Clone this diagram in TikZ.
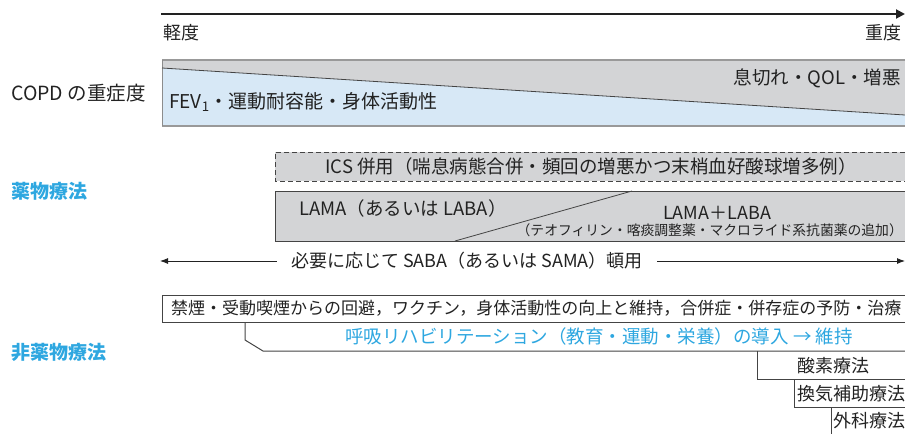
\documentclass[tikz,border=0pt]{standalone}
\usepackage{fontspec}
\setmainfont{Noto Sans CJK JP}
\usetikzlibrary{arrows.meta}
\definecolor{boxgray}{HTML}{D3D4D6}
\definecolor{paleblue}{HTML}{D7E8F6}
\definecolor{skyblue}{HTML}{2EA7E0}
\definecolor{edgecol}{HTML}{444444}
\definecolor{inkcol}{HTML}{222222}
\begin{document}
\begin{tikzpicture}[x=1pt,y=-1pt,
  txt/.style={inner sep=0pt, text=inkcol, font=\fontsize{18}{20}\selectfont},
  smalltxt/.style={inner sep=0pt, text=inkcol, font=\fontsize{13.8}{15}\selectfont},
  bluetxt/.style={inner sep=0pt, text=skyblue, font=\fontsize{19}{21}\selectfont\bfseries},
  axisline/.style={line width=2pt, draw=inkcol, -{Triangle[length=9pt,width=9pt]}},
  edgeline/.style={draw=edgecol, line width=1pt},
  grayedge/.style={draw=gray!80, line width=1.6pt},
  diagline/.style={draw=edgecol, line width=0.8pt},
  thinarrow/.style={draw=inkcol, line width=0.9pt, -{Latex[length=8pt,width=6pt]}}
]
\useasboundingbox (0,0) rectangle (905,434);

% ---- severity axis
\coordinate (axL) at (161,14);
\coordinate (axR) at (905,14);
\draw[axisline] (axL) -- (axR);
\node[txt, anchor=west] (mild) at (163,33) {軽度};
\node[txt, anchor=east] (severe) at (902,33) {重度};

% ---- COPD severity box
\coordinate (cTL) at (162,60);
\coordinate (cTR) at (905,60);
\coordinate (cBL) at (162,126);
\coordinate (cBR) at (905,126);
\coordinate (dL) at (162,68);
\coordinate (dR) at (905,115);
\fill[boxgray] (cTL) -- (cTR) -- (dR) -- (dL) -- cycle;
\fill[paleblue] (dL) -- (dR) -- (cBR) -- (cBL) -- cycle;
\draw[grayedge] (cTL) -- (cTR);
\draw[draw=gray!80, line width=1.3pt] (cBL) -- (cBR);
\draw[draw=gray!90, line width=1pt] (cTL) -- (cBL);
\draw[diagline] (dL) -- (dR);
\node[txt, anchor=west, font=\fontsize{19.5}{21}\selectfont] (copd) at (11,93) {COPD の重症度};
\node[txt, anchor=east, font=\fontsize{18.5}{20}\selectfont] (dysp) at (901,78) {息切れ・QOL・増悪};
\node[txt, anchor=west, font=\fontsize{19}{21}\selectfont] (fev) at (169,102) {FEV\textsubscript{1}・運動耐容能・身体活動性};

% ---- pharmacotherapy
\node[bluetxt, anchor=west] (drug) at (11,191) {薬物療法};

% ICS dashed box
\coordinate (iTR) at (905,152);
\coordinate (iTL) at (275,152);
\coordinate (iBL) at (275,181);
\coordinate (iBR) at (905,181);
\fill[boxgray] (iTL) rectangle (iBR);
\draw[edgeline, line width=0.9pt, dash pattern=on 5pt off 3pt] (iTR) -- (iTL) -- (iBL) -- (iBR);
\node[txt, font=\fontsize{18.5}{20}\selectfont] (ics) at (591,166) {ICS 併用（喘息病態合併・頻回の増悪かつ末梢血好酸球増多例）};

% LAMA box
\coordinate (lTR) at (905,191);
\coordinate (lTL) at (275,191);
\coordinate (lBL) at (275,241);
\coordinate (lBR) at (905,241);
\coordinate (lD1) at (455,241);
\coordinate (lD2) at (632,191);
\fill[boxgray] (lTL) rectangle (lBR);
\draw[edgeline] (lTR) -- (lTL) -- (lBL) -- (lBR);
\draw[diagline] (lD1) -- (lD2);
\node[txt, anchor=west, font=\fontsize{18.5}{20}\selectfont] (lama) at (299,208) {LAMA（あるいは LABA）};
\node[txt] (lamalaba) at (717,213) {LAMA＋LABA};
\node[smalltxt, anchor=east] (addon) at (903,230) {（テオフィリン・喀痰調整薬・マクロライド系抗菌薬の追加）};

% SABA as needed
\node[txt] (saba) at (467,261) {必要に応じて SABA（あるいは SAMA）頓用};
\coordinate (sL) at (160,261);
\coordinate (sR) at (905,261);
\draw[thinarrow] ([xshift=-14pt]saba.west) -- (sL);
\draw[thinarrow] ([xshift=14pt]saba.east) -- (sR);

% ---- non-pharmacotherapy
\node[bluetxt, anchor=west] (nondrug) at (11,352) {非薬物療法};

\coordinate (bTR) at (905,295);
\coordinate (bTL) at (162,295);
\coordinate (bBL) at (162,322);
\coordinate (bBR) at (905,322);
\draw[edgeline] (bTR) -- (bTL) -- (bBL) -- (bBR);
\node[txt, anchor=west, font=\fontsize{17}{19}\selectfont] (smoke) at (171,308) {禁煙・受動喫煙からの回避，ワクチン，身体活動性の向上と維持，合併症・併存症の予防・治療};

% rehabilitation bracket
\coordinate (r1) at (245,322);
\coordinate (r2) at (245,340);
\coordinate (r3) at (263,351);
\coordinate (r4) at (905,351);
\draw[edgeline] (r1) -- (r2) -- (r3) -- (r4);
\node[inner sep=0pt, text=skyblue, font=\fontsize{18.5}{20}\selectfont] (rehab) at (599,336) {呼吸リハビリテーション（教育・運動・栄養）の導入 → 維持};

% oxygen therapy
\coordinate (o1) at (757,351);
\coordinate (o2) at (757,379);
\coordinate (o3) at (905,379);
\draw[edgeline] (o1) -- (o2) -- (o3);
\node[txt] (oxy) at (833,366) {酸素療法};

% ventilatory support
\coordinate (v1) at (794,379);
\coordinate (v2) at (794,407);
\coordinate (v3) at (905,407);
\draw[edgeline] (v1) -- (v2) -- (v3);
\node[txt] (vent) at (851,394) {換気補助療法};

% surgery
\coordinate (s1) at (831,407);
\coordinate (s2) at (831,434);
\draw[edgeline] (s1) -- (s2);
\node[txt] (surg) at (869,421) {外科療法};
\end{tikzpicture}
\end{document}
